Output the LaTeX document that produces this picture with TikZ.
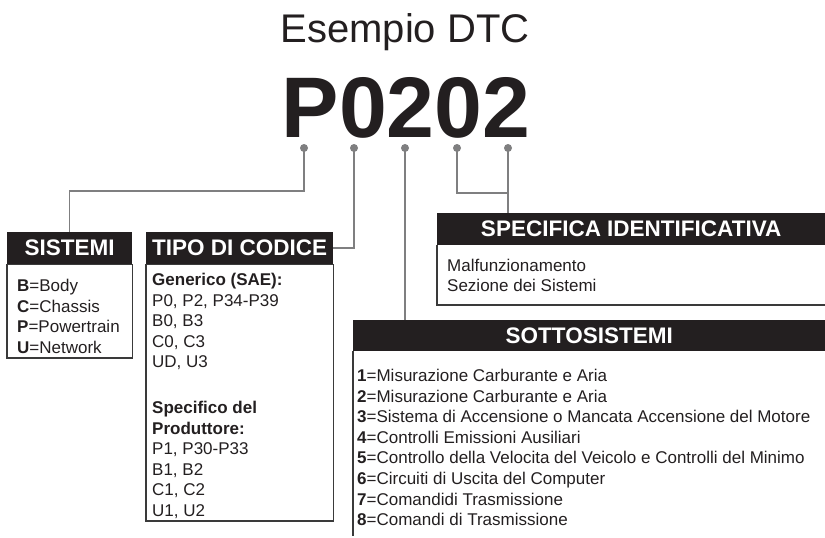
\documentclass[tikz,border=0pt]{standalone}
\usepackage{fontspec}
\setmainfont{Liberation Sans}
\usetikzlibrary{positioning}
\definecolor{ink}{HTML}{231F20}
\definecolor{wire}{HTML}{7F7F80}
\definecolor{rim}{HTML}{3A3A3A}

\begin{document}
\begin{tikzpicture}[
    x=1pt, y=-1pt,
    hdr/.style={rectangle, fill=ink, text=white, anchor=north west, minimum height=32pt, inner sep=0pt, font=\fontsize{22.5}{22}\selectfont\bfseries},
    txt/.style={anchor=north west, inner sep=0pt, align=left, text=ink, font=\fontsize{17}{20.6}\selectfont},
    rim/.style={draw=rim, line width=1.2pt},
    wire/.style={draw=wire, line width=1.5pt},
    dot/.style={circle, fill=wire, inner sep=0pt, minimum size=8pt}
]
    \useasboundingbox (0,0) rectangle (825,538);

    \node[anchor=base, text=ink, font=\fontsize{40}{40}\selectfont] (title) at (405,42) {Esempio DTC};
    \node[anchor=base, text=ink, font=\fontsize{86}{86}\selectfont\bfseries] (code) at (406,137) {P0202};

    \foreach \x [count=\i] in {304,354,405,457,508}
        \node[dot] (d\i) at (\x,148) {};

    \node[hdr, minimum width=125pt] (hsis) at (7,232) {SISTEMI};
    \node[hdr, minimum width=187pt] (htipo) at (146,232) {TIPO DI CODICE};
    \node[hdr, minimum width=388pt] (hspec) at (437,213) {SPECIFICA IDENTIFICATIVA};
    \node[hdr, minimum width=472pt, minimum height=31pt] (hsotto) at (353,320) {SOTTOSISTEMI};

    \draw[rim] (hsis.south west) rectangle (hsis.south east |- 0,358);
    \draw[rim] (htipo.south west) rectangle (htipo.south east |- 0,521);
    \draw[rim] (hspec.south west) |- (hspec.south east |- 0,305);
    \draw[rim] (hsotto.south west) -- (hsotto.south west |- 0,536);

    \node[txt] (tsis) at (17,279) {\textbf{B}=Body\\ \textbf{C}=Chassis\\ \textbf{P}=Powertrain\\ \textbf{U}=Network};
    \node[txt, font=\fontsize{17}{20.6}\selectfont] (ttipo) at (152,273) {\textbf{Generico (SAE):}\\ P0, P2, P34-P39\\ B0, B3\\ C0, C3\\ UD, U3\\[25pt]
        \textbf{Specifico del}\\ \textbf{Produttore:}\\ P1, P30-P33\\ B1, B2\\ C1, C2\\ U1, U2};
    \node[txt, font=\fontsize{17}{20}\selectfont] (tspec) at (447,259) {Malfunzionamento\\ Sezione dei Sistemi};
    \node[txt] (tsotto) at (357,369) {\textbf{1}=Misurazione Carburante e Aria\\
        \textbf{2}=Misurazione Carburante e Aria\\
        \textbf{3}=Sistema di Accensione o Mancata Accensione del Motore\\
        \textbf{4}=Controlli Emissioni Ausiliari\\
        \textbf{5}=Controllo della Velocita del Veicolo e Controlli del Minimo\\
        \textbf{6}=Circuiti di Uscita del Computer\\
        \textbf{7}=Comandidi Trasmissione\\
        \textbf{8}=Comandi di Trasmissione};

    % leader lines from the digits
    \coordinate (k1) at (hsis.north |- 0,191);
    \coordinate (k4) at (d5 |- 0,193);
    \draw[wire] (d1.center) |- (k1) -- (hsis.north);
    \draw[wire] (d2.center) |- (htipo.east);
    \draw[wire] (d3.center) -- (d3 |- hsotto.north);
    \draw[wire] (d4.center) |- (k4);
    \draw[wire] (d5.center) -- (d5 |- hspec.north);
\end{tikzpicture}
\end{document}
